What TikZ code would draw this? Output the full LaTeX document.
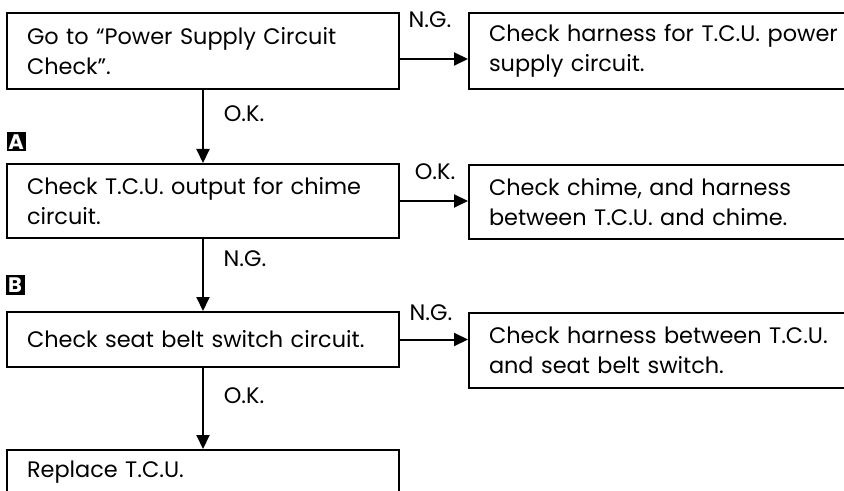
\documentclass[tikz,border=0pt]{standalone}
\usepackage{fontspec}
\setmainfont{Poppins}
\usetikzlibrary{arrows.meta}

\begin{document}
\begin{tikzpicture}[x=0.5pt,y=-0.5pt,font=\fontsize{11.2pt}{14.8pt}\selectfont,
  box/.style={draw,line width=1pt,anchor=north west,align=left,inner ysep=0pt,inner xsep=10pt,text width=176pt},
  lbl/.style={anchor=base,inner sep=0pt},
  stepmark/.style={fill=black,text=white,inner sep=0pt,minimum size=9.5pt,font=\fontsize{10.5pt}{10.5pt}\selectfont\bfseries},
  arr/.style={line width=1pt,-{Triangle[length=7pt,width=6.5pt]}}]
\useasboundingbox (0,0) rectangle (844,491);
\clip (0,0) rectangle (844,491);
% left column
\node[box,minimum height=38pt] (check1) at (6,12) {Go to “Power Supply Circuit\\Check”.};
\node[box,minimum height=37pt] (check2) at (6,163) {Check T.C.U. output for chime\\circuit.};
\node[box,minimum height=27.5pt] (check3) at (6,311) {Check seat belt switch circuit.};
\node[box,minimum height=22pt] (replace) at (6,449) {Replace T.C.U.};
% right column
\node[box,minimum height=38pt] (harness1) at (468,12) {Check harness for T.C.U. power\\supply circuit.};
\node[box,minimum height=37pt] (chime) at (468,164) {Check chime, and harness\\between T.C.U. and chime.};
\node[box,minimum height=37.5pt] (harness3) at (468,312) {Check harness between T.C.U.\\and seat belt switch.};
% markers
\node[stepmark] (markA) at (16,142) {A};
\node[stepmark] (markB) at (15,285) {B};
% arrows down
\draw[arr] (check1.south) -- (check2.north);
\draw[arr] (check2.south) -- (check3.north);
\draw[arr] (check3.south) -- (replace.north);
% arrows right
\draw[arr] ([yshift=-4pt]check1.east) -- ([yshift=-4pt]check1.east -| harness1.west);
\draw[arr] (check2.east) -- (check2.east -| chime.west);
\draw[arr] (check3.east) -- (check3.east -| harness3.west);
% labels
\node[lbl] (ok1) at (244,122) {O.K.};
\node[lbl] (ng2) at (245,267) {N.G.};
\node[lbl] (ok3) at (244,403) {O.K.};
\node[lbl] (ng1) at (430,28) {N.G.};
\node[lbl] (ok2) at (435,180) {O.K.};
\node[lbl] (ng3) at (431,320) {N.G.};
\end{tikzpicture}
\end{document}
